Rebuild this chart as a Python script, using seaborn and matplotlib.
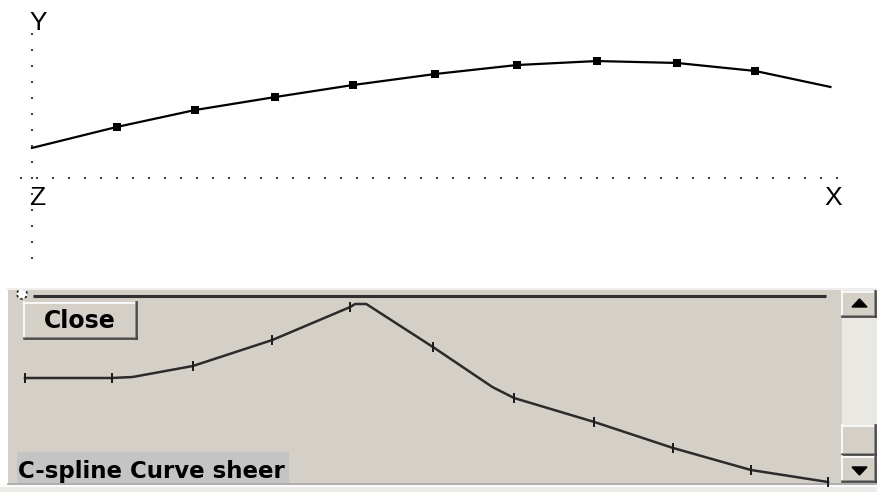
import numpy as np
import matplotlib
matplotlib.use('Agg')
import matplotlib.pyplot as plt
from matplotlib.patches import Rectangle, Circle, Polygon
import seaborn as sns

# ---- data ----
# top view: curve through the stations (first/last are the free ends)
station_x = [0.0, 1.06, 2.04, 3.04, 4.01, 5.04, 6.06, 7.06, 8.06, 9.04, 9.98]
station_y = [1.88, 3.19, 4.25, 5.06, 5.81, 6.50, 7.06, 7.31, 7.19, 6.69, 5.69]

# bottom view: sheer curve (line vertices), ticks only at stations
sheer_x = [0.0, 1.08, 1.34, 2.09, 3.08, 4.05, 4.11, 4.25, 5.08, 5.82, 6.09, 7.09, 8.07, 9.04, 10.0]
sheer_y = [5.25, 5.25, 5.30, 5.85, 7.15, 8.80, 8.95, 8.95, 6.80, 4.80, 4.25, 3.05, 1.75, 0.65, 0.05]
sheer_tick_idx = [0, 1, 3, 4, 5, 8, 10, 11, 12, 13, 14]

axis_labels = ['Y', 'Z', 'X']
button_text = 'Close'
panel_title = 'C-spline Curve sheer'

W, H = 878, 492
GRAY = '#d4d0c8'
fig = plt.figure(figsize=(W / 100, H / 100), dpi=100)
fig.patch.set_facecolor('white')

# background / window chrome axes in pixel space
bg = fig.add_axes([0, 0, 1, 1])
bg.set_xlim(0, W)
bg.set_ylim(H, 0)
bg.axis('off')


def bevel(ax, x0, y0, x1, y1, face=GRAY):
    ax.add_patch(Rectangle((x0, y0), x1 - x0, y1 - y0, facecolor=face, edgecolor='none'))
    ax.plot([x0, x1], [y0 + 0.5, y0 + 0.5], color='white', lw=1.2)
    ax.plot([x0 + 0.5, x0 + 0.5], [y0, y1], color='white', lw=1.2)
    ax.plot([x0, x1], [y1 - 1, y1 - 1], color='#808080', lw=1.2)
    ax.plot([x1 - 1, x1 - 1], [y0, y1], color='#808080', lw=1.2)
    ax.plot([x0, x1], [y1, y1], color='#404040', lw=1.2)
    ax.plot([x1, x1], [y0, y1], color='#404040', lw=1.2)


# gray panel
bg.add_patch(Rectangle((8, 288), W - 8, 195, facecolor=GRAY, edgecolor='none'))
bg.plot([8, W], [288.5, 288.5], color='#eeeeee', lw=1.5)
bg.plot([8, W], [483.5, 483.5], color='#a0a0a0', lw=1.2)
bg.add_patch(Rectangle((0, 485), W, 7, facecolor='#ecebe8', edgecolor='none'))
bg.plot([0, W], [486, 486], color='white', lw=1.2)

# slider track + knob
bg.plot([33, 826], [295.5, 295.5], color='#303030', lw=2.2, solid_capstyle='butt')
bg.add_patch(Circle((22, 294), 5, facecolor='white', edgecolor='#202020',
                    lw=1.2, linestyle=(0, (1.5, 1.5))))

# Close button
bevel(bg, 24, 302, 137, 339)
bg.text(80, 328, button_text, ha='center', va='baseline', fontsize=17,
        fontweight='bold', family='DejaVu Sans', color='black')

# title label
bg.add_patch(Rectangle((17, 452), 272, 31, facecolor='#c4c4c4', edgecolor='none'))
bg.text(18, 478, panel_title, ha='left', va='baseline', fontsize=16.5,
        fontweight='bold', family='DejaVu Sans', color='black')

# scrollbar
bg.add_patch(Rectangle((842, 289), 36, 195, facecolor='#eae8e3', edgecolor='none',
                       hatch='....', linewidth=0))
bevel(bg, 842, 291, 876, 317)
bevel(bg, 842, 425, 876, 455)
bevel(bg, 842, 456, 876, 482)
bg.add_patch(Polygon([[852, 307], [867, 307], [859.5, 299]], closed=True, color='black'))
bg.add_patch(Polygon([[852, 467], [867, 467], [859.5, 475]], closed=True, color='black'))

# ---- top view ----
ax = fig.add_axes([0, 1 - 288 / H, 1, 288 / H])
ax.set_facecolor('none')
ax.set_xlim(-0.4, 10.575)
ax.set_ylim(-6.875, 11.125)
ax.axis('off')

# dotted axes
vy = np.arange(-5, 10, 1)
ax.plot(np.zeros_like(vy), vy, 's', ms=1.6, color='#404040', mew=0)
hx = np.arange(-0.1375, 10.1, 0.2)
ax.plot(hx, np.zeros_like(hx), 's', ms=1.6, color='#404040', mew=0)

sns.lineplot(x=station_x, y=station_y, ax=ax, color='black', linewidth=1.6,
             sort=False, estimator=None)
sns.scatterplot(x=station_x[1:-1], y=station_y[1:-1], ax=ax, marker='s', s=30,
                color='black', linewidth=0, zorder=3)

for lbl, lx, ly in zip(axis_labels, [-0.03, -0.03, 9.91], [9.25, -1.69, -1.69]):
    ax.text(lx, ly, lbl, ha='left', va='baseline', fontsize=19,
            family='Liberation Sans', color='black')

# ---- bottom view (sheer) ----
ax2 = fig.add_axes([8 / W, (H - 483) / H, (842 - 8) / W, 195 / H])
ax2.set_facecolor('none')
ax2.set_xlim(-0.2117, 10.174)
ax2.set_ylim(0, 9.75)
ax2.axis('off')

sns.lineplot(x=sheer_x, y=sheer_y, ax=ax2, color='#2b2b2b', linewidth=1.8,
             sort=False, estimator=None)
tx = [sheer_x[i] for i in sheer_tick_idx]
ty = [sheer_y[i] for i in sheer_tick_idx]
sns.scatterplot(x=tx, y=ty, ax=ax2, marker='|', s=45, color='#1a1a1a',
                linewidth=1.4, zorder=3)
for line in ax2.lines:
    line.set_clip_on(False)
for coll in ax2.collections:
    coll.set_clip_on(False)

fig.savefig('out.png', dpi=100)
